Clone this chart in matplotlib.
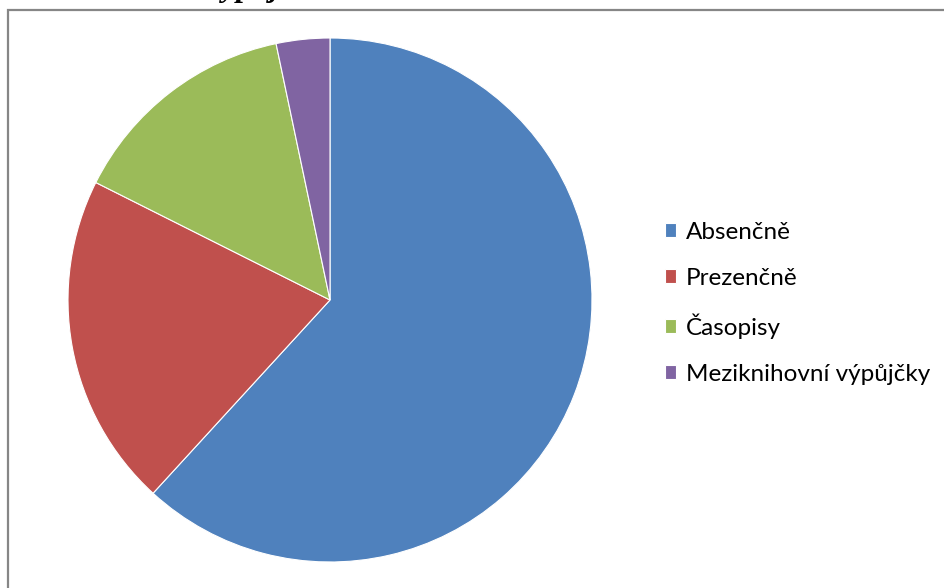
import matplotlib
matplotlib.use("Agg")
import matplotlib.pyplot as plt
from matplotlib.patches import Rectangle

labels = ["Absenčně", "Prezenčně", "Časopisy", "Meziknihovní výpůjčky"]
values = [61.8, 20.6, 14.3, 3.3]
colors = ["#4F81BD", "#C0504D", "#9BBB59", "#8064A2"]

W, H = 945, 588
fig = plt.figure(figsize=(W / 100, H / 100), dpi=100)

# chart border (extends beyond right/bottom of image)
fig.patches.append(Rectangle((8 / W, -0.1), 1.2, 1 - 10 / H + 0.1,
                             transform=fig.transFigure, fill=False,
                             edgecolor="#868686", linewidth=1.6))

# cut-off title remnant (only descenders visible at the top edge)
fig.text(209 / W, 1 + 4 / H, "výpůjček", fontsize=23, fontweight="bold",
         fontstyle="italic", family="Liberation Serif", va="baseline",
         ha="left", color="black")

ax = fig.add_axes([68 / W, (H - 562) / H, 524 / W, 524 / H])
wedges, _ = ax.pie(values, colors=colors, startangle=90, counterclock=False,
                   wedgeprops=dict(edgecolor="white", linewidth=0.8))
ax.set_xlim(-1, 1)
ax.set_ylim(-1, 1)
ax.set_aspect("equal")
ax.axis("off")

leg = fig.legend(wedges, labels, loc="upper left",
                 bbox_to_anchor=(655 / W, 1 - 212 / H),
                 frameon=False, prop=dict(family="Lato", size=17.5),
                 handlelength=0.48, handleheight=0.48, handletextpad=0.4,
                 labelspacing=1.02, borderaxespad=0)

fig.savefig("out.png", dpi=100)
